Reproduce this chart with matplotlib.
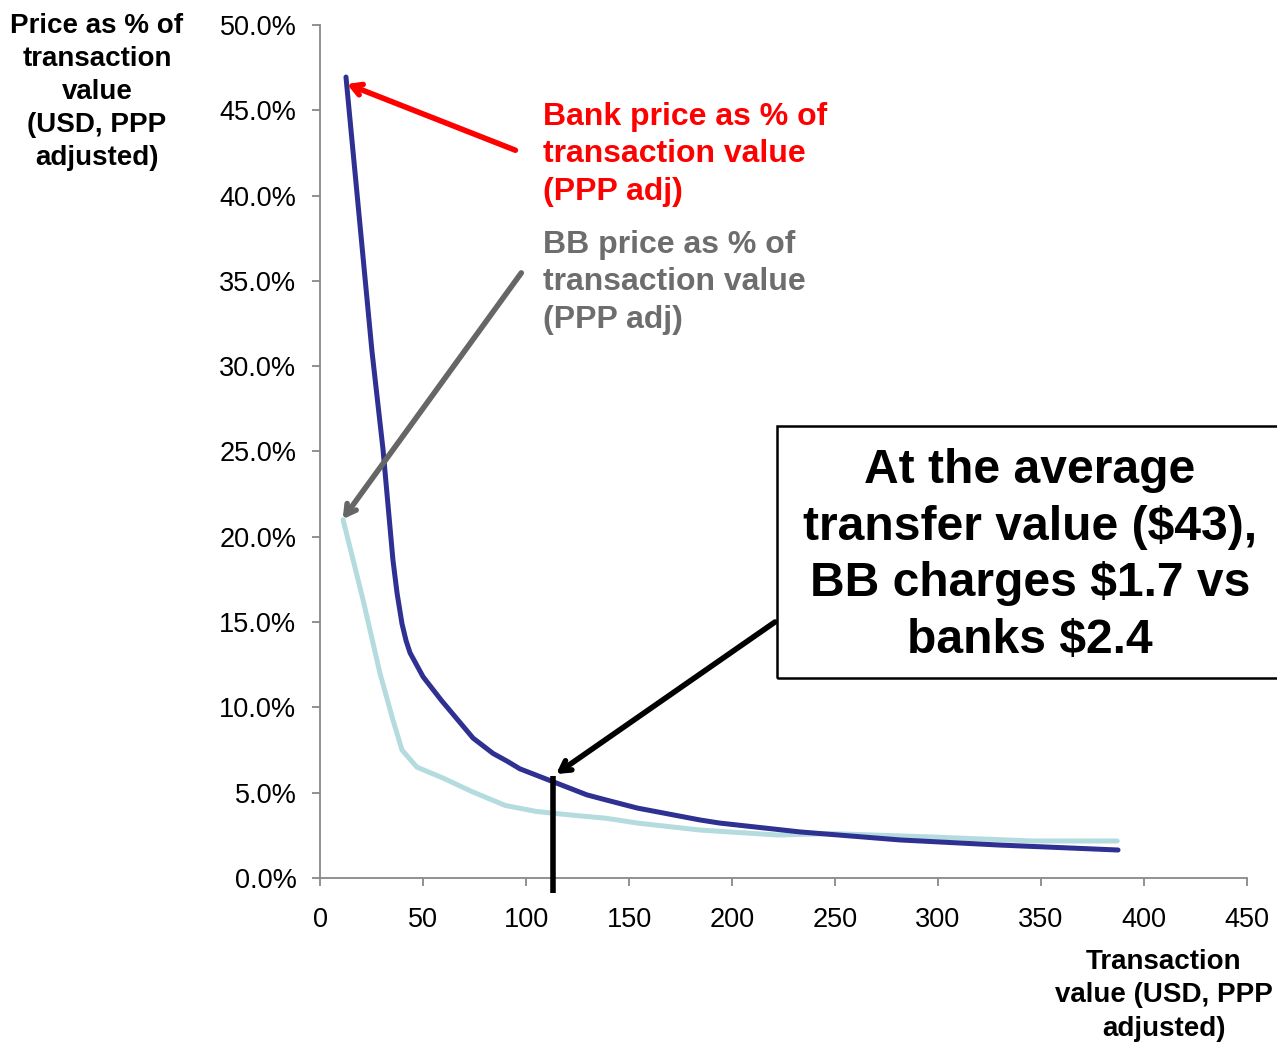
import numpy as np
import matplotlib.pyplot as plt
from matplotlib.patches import Rectangle
from matplotlib.ticker import FuncFormatter

plt.rcParams['font.family'] = ['Liberation Sans', 'DejaVu Sans']

# values (x in USD, y in %)
bank_x = [12.6, 25.2, 30.6, 35.4, 37.4, 39.8, 41.8, 43.7, 50, 59, 74.3, 84, 90.8,
          97, 113, 129.6, 139, 154, 184.5, 194, 233, 281.6, 330, 387.4]
bank_y = [46.95, 30.9, 25.1, 18.64, 16.7, 14.9, 13.9, 13.2, 11.8, 10.4, 8.2, 7.3,
          6.85, 6.4, 5.65, 4.87, 4.57, 4.1, 3.4, 3.22, 2.7, 2.23, 1.93, 1.64]

bb_x = [11.2, 20.9, 29.1, 35.4, 39.8, 47, 59.7, 74, 90, 105, 121, 139, 154,
        184.5, 222, 249, 297.6, 346, 387]
bb_y = [21.0, 16.3, 12.0, 9.26, 7.5, 6.5, 5.86, 5.05, 4.25, 3.9, 3.7, 3.5, 3.22,
        2.81, 2.52, 2.6, 2.4, 2.17, 2.17]

avg_x = 113.1  # marker line position

bank_label = 'Bank price as % of\ntransaction value\n(PPP adj)'
bb_label = 'BB price as % of\ntransaction value\n(PPP adj)'
box_text = 'At the average\ntransfer value ($43),\nBB charges $1.7 vs\nbanks $2.4'

fig = plt.figure(figsize=(12.77, 10.42), dpi=100)
ax = fig.add_axes([0.2506, 0.1574, 0.7259, 0.8186])

ax.plot(bb_x, bb_y, color='#B4DCDF', lw=3.6, solid_capstyle='round',
        solid_joinstyle='round', zorder=2)
ax.plot(bank_x, bank_y, color='#2E3092', lw=3.6, solid_capstyle='round',
        solid_joinstyle='round', zorder=3)

ax.set_xlim(0, 450)
ax.set_ylim(0, 50)
ax.set_xticks(np.arange(0, 451, 50))
ax.set_yticks(np.arange(0, 50.1, 5))
ax.yaxis.set_major_formatter(FuncFormatter(lambda v, p: '{:.1f}%'.format(v)))
ax.tick_params(labelsize=19.5, color='#888888', width=1.3, length=6)
ax.tick_params(axis='x', pad=15)
ax.tick_params(axis='y', pad=11)
for s in ['top', 'right']:
    ax.spines[s].set_visible(False)
for s in ['left', 'bottom']:
    ax.spines[s].set_color('#888888')
    ax.spines[s].set_linewidth(1.3)

# annotations
arrow_style = '->,head_length=0.7,head_width=0.4'
ax.annotate('', xy=(11.8, 46.6), xytext=(96.1, 42.6),
            arrowprops=dict(arrowstyle=arrow_style, color='#FF0000', lw=4))
ax.text(108.3, 45.5, bank_label, color='#FF0000', fontsize=23,
        fontweight='bold', va='top', ha='left', linespacing=1.33)

ax.annotate('', xy=(10.2, 20.9), xytext=(98.5, 35.6),
            arrowprops=dict(arrowstyle=arrow_style, color='#666666', lw=4))
ax.text(108.3, 38.0, bb_label, color='#6D6D6D', fontsize=23,
        fontweight='bold', va='top', ha='left', linespacing=1.33)

ax.plot([avg_x, avg_x], [-0.9, 6.0], color='black', lw=4, clip_on=False,
        solid_capstyle='butt', zorder=4)
ax.annotate('', xy=(113.5, 6.0), xytext=(222, 15.1),
            arrowprops=dict(arrowstyle=arrow_style, color='black', lw=4))

fig.patches.append(Rectangle((0.6085, 0.3493), 0.45, 0.2419,
                             transform=fig.transFigure, fill=False,
                             edgecolor='black', lw=1.8))
fig.text(0.8066, 0.467, box_text, fontsize=34.6, fontweight='bold',
         ha='center', va='center', linespacing=1.33)

fig.text(0.076, 0.988, 'Price as % of\ntransaction\nvalue\n(USD, PPP\nadjusted)',
         fontsize=20, fontweight='bold', ha='center', va='top', linespacing=1.36)
fig.text(0.9115, 0.089, 'Transaction\nvalue (USD, PPP\nadjusted)',
         fontsize=20, fontweight='bold', ha='center', va='top', linespacing=1.36)

fig.savefig('out.png', dpi=100)
